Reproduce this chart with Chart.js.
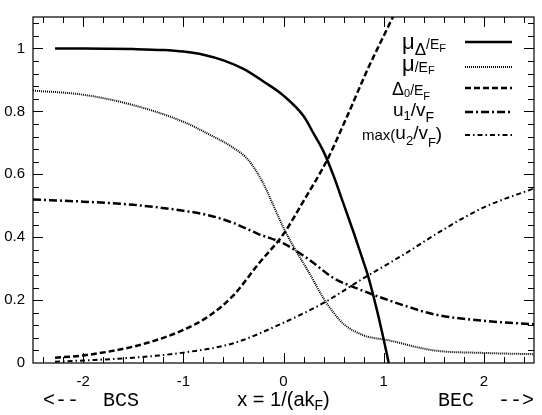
<!DOCTYPE html>
<html>
<head>
<meta charset="utf-8">
<script src="https://cdn.jsdelivr.net/npm/chart.js@4.4.1/dist/chart.umd.min.js"></script>
<style>
  body { margin: 0; background: #fff; }
  #wrap { width: 542px; height: 415px; position: relative; }
</style>
</head>
<body>
<div id="wrap"><canvas id="plot"></canvas></div>
<script>
// values
const xTicks = [-2, -1, 0, 1, 2];
const yTicks = [0, 0.2, 0.4, 0.6, 0.8, 1];

const muDeltaX = [-2.28, -2.0, -1.5, -1.2, -1.0, -0.8, -0.6, -0.4, -0.2, 0, 0.2, 0.3, 0.4, 0.5, 0.6, 0.7, 0.8, 0.85, 0.9, 0.95, 1.0, 1.05];
const muDeltaY = [1.0, 1.0, 0.998, 0.995, 0.99, 0.98, 0.962, 0.935, 0.895, 0.85, 0.785, 0.73, 0.672, 0.595, 0.505, 0.415, 0.32, 0.27, 0.21, 0.145, 0.075, 0.0];

const muX = [-2.5, -2.0, -1.5, -1.0, -0.75, -0.5, -0.35, -0.2, -0.1, 0, 0.1, 0.25, 0.4, 0.5, 0.6, 0.8, 1.05, 1.5, 2.0, 2.5];
const muY = [0.866, 0.853, 0.82, 0.767, 0.728, 0.684, 0.645, 0.57, 0.5, 0.43, 0.37, 0.29, 0.205, 0.16, 0.124, 0.088, 0.072, 0.04, 0.032, 0.028];

const gapX = [-2.28, -2.0, -1.5, -1.2, -1.0, -0.75, -0.5, -0.25, 0, 0.2, 0.44, 0.64, 0.84, 1.0, 1.2];
const gapY = [0.017, 0.024, 0.052, 0.08, 0.105, 0.148, 0.215, 0.315, 0.41, 0.515, 0.648, 0.788, 0.934, 1.04, 1.17];

const u1X = [-2.5, -2.0, -1.5, -1.0, -0.75, -0.5, -0.25, 0, 0.25, 0.5, 0.75, 1.0, 1.25, 1.5, 2.0, 2.5];
const u1Y = [0.52, 0.513, 0.503, 0.484, 0.47, 0.445, 0.41, 0.38, 0.33, 0.27, 0.235, 0.205, 0.178, 0.155, 0.134, 0.123];

const u2X = [-2.28, -2.0, -1.5, -1.0, -0.5, 0, 0.4, 0.8, 1.2, 1.6, 2.0, 2.5];
const u2Y = [0.004, 0.008, 0.017, 0.033, 0.063, 0.128, 0.191, 0.27, 0.345, 0.425, 0.495, 0.555];

const FONT = '"Liberation Sans", Arial, sans-serif';
const MONO = '"Liberation Mono", "Courier New", monospace';

function pts(xs, ys) {
  return xs.map((x, i) => ({ x: x, y: ys[i] }));
}

function series(xs, ys, width, dash) {
  return {
    data: pts(xs, ys),
    borderColor: "#000",
    borderWidth: width,
    borderDash: dash,
    pointRadius: 0,
    fill: false,
    cubicInterpolationMode: "monotone"
  };
}

const datasets = [
  series(muDeltaX, muDeltaY, 2.5, []),
  series(muX, muY, 2, [1, 1]),
  series(gapX, gapY, 2.5, [6, 3]),
  series(u1X, u1Y, 2.5, [8, 3, 2, 3]),
  series(u2X, u2Y, 2, [5, 3, 1.5, 3])
];

// legend rows: pieces of text with size and baseline shift
const legendRows = [
  { x: 402, y: 42, parts: [["μ", 22, 7], ["Δ", 17, 13], ["/E", 14, 7], ["F", 11, 10]] },
  { x: 402, y: 67, parts: [["μ", 22, 4], ["/E", 14, 5], ["F", 11, 7]] },
  { x: 392, y: 88, parts: [["Δ", 18, 7], ["0", 11, 9], ["/E", 14, 7], ["F", 11, 12]] },
  { x: 393, y: 112, parts: [["u", 19, 4], ["1", 13, 8], ["/v", 19, 4], ["F", 14, 10]] },
  { x: 362, y: 135, parts: [["max(", 15, 5], ["u", 19, 4], ["2", 13, 10], ["/v", 19, 4], ["F", 13, 12], [")", 19, 5]] }
];

function drawParts(ctx, parts, x, y) {
  parts.forEach(p => {
    ctx.font = p[1] + "px " + FONT;
    ctx.fillText(p[0], x, y + p[2]);
    x += ctx.measureText(p[0]).width;
  });
}

const framePlugin = {
  id: "frame",
  afterDraw(chart) {
    const ctx = chart.ctx;
    const a = chart.chartArea;
    const xs = chart.scales.x, ys = chart.scales.y;
    ctx.save();
    ctx.strokeStyle = "#000";
    ctx.lineWidth = 1;
    ctx.beginPath();
    for (let i = -12; i <= 12; i++) {
      const v = i / 5;
      const px = Math.round(xs.getPixelForValue(v)) + 0.5;
      const len = i % 5 === 0 ? 10 : 6;
      ctx.moveTo(px, a.bottom); ctx.lineTo(px, a.bottom - len);
      ctx.moveTo(px, a.top); ctx.lineTo(px, a.top + len);
    }
    for (let i = 1; i <= 27; i++) {
      const v = i * 0.04;
      const py = Math.round(ys.getPixelForValue(v)) + 0.5;
      const len = i % 5 === 0 ? 10 : 6;
      ctx.moveTo(a.left, py); ctx.lineTo(a.left + len, py);
      ctx.moveTo(a.right, py); ctx.lineTo(a.right - len, py);
    }
    ctx.stroke();
    ctx.lineWidth = 1.2;
    ctx.strokeRect(a.left, a.top, a.right - a.left, a.bottom - a.top);

    // legend
    ctx.fillStyle = "#000";
    ctx.textBaseline = "alphabetic";
    legendRows.forEach((row, i) => {
      drawParts(ctx, row.parts, row.x, row.y);
      const ds = chart.data.datasets[i];
      ctx.beginPath();
      ctx.lineWidth = ds.borderWidth;
      ctx.setLineDash(ds.borderDash);
      ctx.moveTo(465, row.y);
      ctx.lineTo(512, row.y);
      ctx.stroke();
    });
    ctx.setLineDash([]);

    // bottom labels
    const by = 406;
    ctx.font = "20px " + MONO;
    ctx.textAlign = "left";
    ctx.fillText("<--  BCS", 43, by);
    ctx.textAlign = "right";
    ctx.fillText("BEC  -->", 534, by);
    ctx.textAlign = "left";
    const title = [["x = 1/(ak", 20, 0], ["F", 14, 4], [")", 20, 0]];
    let w = 0;
    title.forEach(p => { ctx.font = p[1] + "px " + FONT; w += ctx.measureText(p[0]).width; });
    drawParts(ctx, title, xs.getPixelForValue(0) - w / 2, by);
    ctx.restore();
  }
};

new Chart(document.getElementById("plot"), {
  type: "line",
  data: { datasets },
  options: {
    responsive: true,
    maintainAspectRatio: false,
    animation: false,
    events: [],
    layout: { padding: { top: 9, right: 8, left: 0, bottom: 0 } },
    plugins: { legend: { display: false }, tooltip: { enabled: false } },
    scales: {
      x: {
        type: "linear",
        min: -2.5,
        max: 2.5,
        afterFit: s => { s.height = 52; },
        afterBuildTicks: s => { s.ticks = xTicks.map(v => ({ value: v })); },
        grid: { display: false, drawTicks: false },
        border: { display: false },
        ticks: { color: "#000", font: { family: FONT, size: 15 }, padding: 10, maxRotation: 0, callback: v => String(v) }
      },
      y: {
        min: 0,
        max: 1.1,
        afterFit: s => { s.width = 33; },
        afterBuildTicks: s => { s.ticks = yTicks.map(v => ({ value: v })); },
        grid: { display: false, drawTicks: false },
        border: { display: false },
        ticks: { color: "#000", font: { family: FONT, size: 15 }, padding: 8, callback: v => String(Math.round(v * 10) / 10) }
      }
    }
  },
  plugins: [framePlugin]
});
</script>
</body>
</html>
